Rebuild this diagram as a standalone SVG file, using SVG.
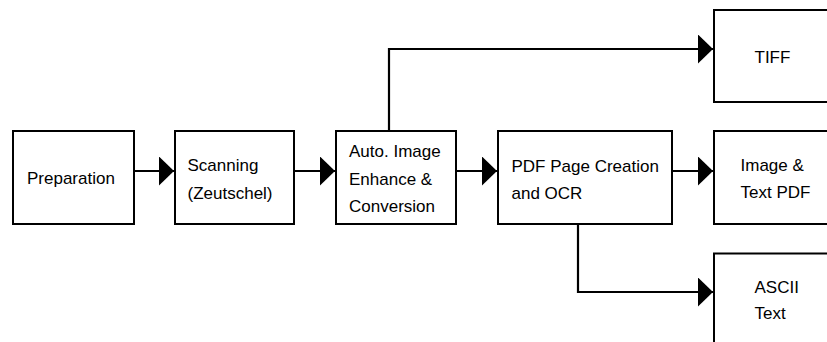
<svg xmlns="http://www.w3.org/2000/svg" width="827" height="342" viewBox="0 0 827 342">
<style>
.box{fill:#fff;stroke:#000;stroke-width:2}
.lbl{font-family:"Liberation Sans",Arial,sans-serif;font-size:17px;fill:#000}
.con{fill:none;stroke:#000;stroke-width:2.2;marker-end:url(#ah)}
</style>
<defs>
<marker id="ah" markerUnits="userSpaceOnUse" markerWidth="16" markerHeight="30" refX="15" refY="14.5" orient="auto">
<path d="M0,0 L15,14.5 L0,29 Z" fill="#000"/>
</marker>
</defs>
<rect width="827" height="342" fill="#fff"/>
<g id="connectors">
<path class="con" d="M134,171 H174"/>
<path class="con" d="M295,171 H335"/>
<path class="con" d="M457,171 H497"/>
<path class="con" d="M673,171 H713"/>
<path class="con" d="M389,131 V49 H713"/>
<path class="con" d="M578,224 V292 H713"/>
</g>
<g id="preparation">
<rect class="box" x="13" y="131" width="121" height="93"/>
<text class="lbl" x="27" y="184">Preparation</text>
</g>
<g id="scanning">
<rect class="box" x="175" y="131" width="119" height="93"/>
<text class="lbl" x="187.5" y="171">Scanning</text>
<text class="lbl" x="187.5" y="199">(Zeutschel)</text>
</g>
<g id="enhance">
<rect class="box" x="336" y="131" width="120" height="93"/>
<text class="lbl" x="349" y="157">Auto. Image</text>
<text class="lbl" x="349" y="185">Enhance &amp;</text>
<text class="lbl" x="349" y="212">Conversion</text>
</g>
<g id="pdf">
<rect class="box" x="498" y="131" width="174" height="93"/>
<text class="lbl" x="511.5" y="171.5">PDF Page Creation</text>
<text class="lbl" x="511.5" y="199">and OCR</text>
</g>
<g id="tiff">
<rect class="box" x="714" y="10" width="130" height="92"/>
<text class="lbl" x="754.5" y="62.5">TIFF</text>
</g>
<g id="imagetext">
<rect class="box" x="714" y="131" width="130" height="93"/>
<text class="lbl" x="740.5" y="170.5">Image &amp;</text>
<text class="lbl" x="740.5" y="197.5">Text PDF</text>
</g>
<g id="ascii">
<rect class="box" x="714" y="253.5" width="130" height="100"/>
<text class="lbl" x="754.5" y="292.5">ASCII</text>
<text class="lbl" x="754.5" y="318.5">Text</text>
</g>
</svg>
